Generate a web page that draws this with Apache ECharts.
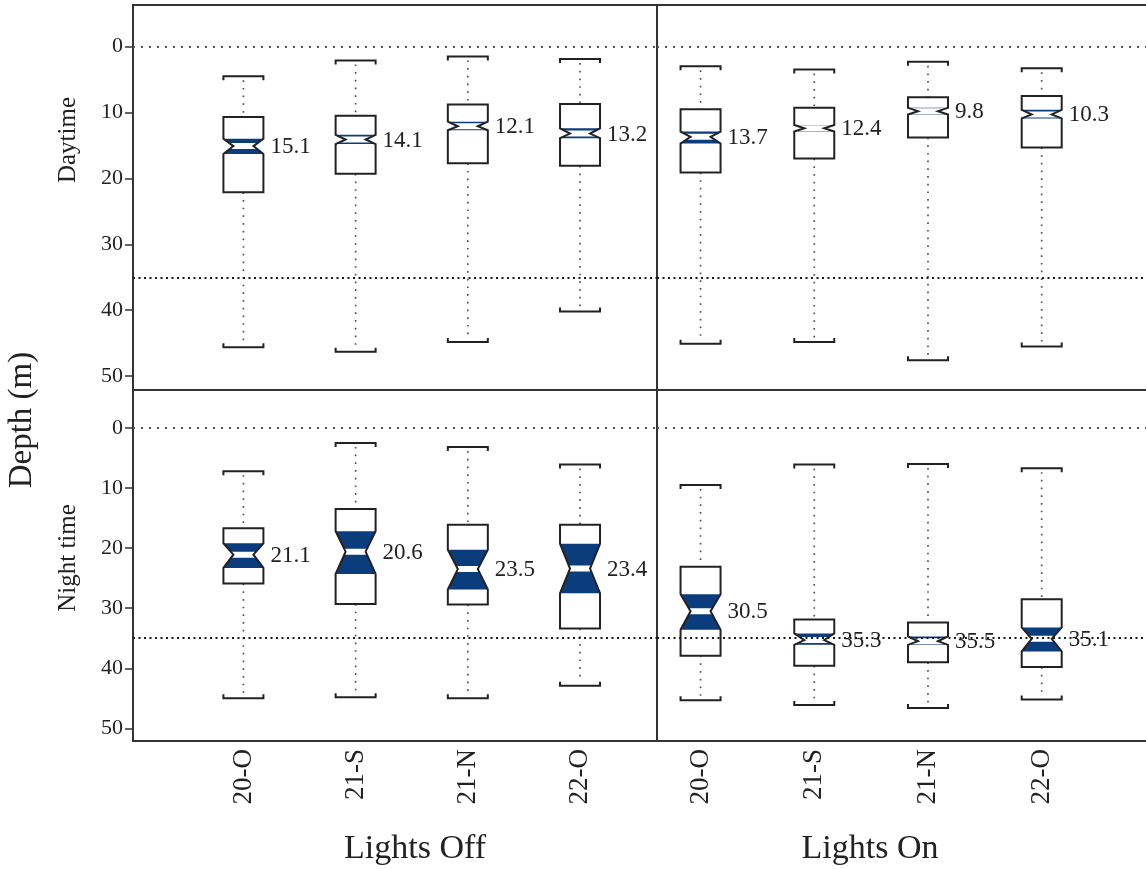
<!DOCTYPE html>
<html>
<head>
<meta charset="utf-8">
<script src="https://cdn.jsdelivr.net/npm/echarts@6/dist/echarts.min.js"></script>
<style>
html,body{margin:0;padding:0;background:#fff;}
#chart{width:1146px;height:869px;}
</style>
</head>
<body>
<div id="chart"></div>
<script>
// ---- data (depth in m) ----
const categories = ['20-O', '21-S', '21-N', '22-O'];
// each row: [upper whisker, box top (Q1), notch top, median, notch bottom, box bottom (Q3), lower whisker]
const dayOff   = [[4.5,10.7,14.0,15.1,16.3,22.1,45.6],[2.1,10.5,13.4,14.1,14.8,19.3,46.3],[1.5,8.8,11.4,12.1,12.7,17.7,44.8],[1.9,8.7,12.4,13.2,13.9,18.1,40.2]];
const dayOn    = [[3.0,9.5,12.9,13.7,14.7,19.1,45.1],[3.5,9.3,11.9,12.4,12.9,17.0,44.8],[2.3,7.7,9.3,9.8,10.3,13.8,47.6],[3.3,7.5,9.6,10.3,10.9,15.3,45.5]];
const nightOff = [[7.2,16.7,19.2,21.1,23.3,25.9,45.0],[2.5,13.5,17.2,20.6,24.3,29.3,44.8],[3.2,16.1,20.3,23.5,26.9,29.4,45.0],[6.1,16.1,19.3,23.4,27.5,33.4,42.9]];
const nightOn  = [[9.5,23.1,27.7,30.5,33.6,37.9,45.3],[6.1,31.9,34.2,35.3,36.1,39.6,46.1],[6.0,32.4,34.7,35.5,36.1,39.0,46.6],[6.7,28.5,33.2,35.1,37.2,39.8,45.2]];
const surfaceDepth = 0;
const refDepth = 35;
const yTicks = [0, 10, 20, 30, 40, 50];
const xPositions = [1, 2, 3, 4];
const columnTitles = ['Lights Off', 'Lights On'];
const rowTitles = ['Daytime', 'Night time'];
const yTitle = 'Depth (m)';

// ---- styling ----
const SERIF = '"Liberation Serif", "Times New Roman", serif';
const NAVY = '#0b3d7c';
const INK = '#222';

function toData(rows) {
  return rows.map((r, i) => [xPositions[i]].concat(r));
}

function renderBox(params, api) {
  const x = api.value(0);
  const P = i => api.coord([x, api.value(i)]);
  const cx = P(4)[0];
  const yCapT = P(1)[1], yQ1 = P(2)[1], yNT = P(3)[1], yMed = P(4)[1],
        yNB = P(5)[1], yQ3 = P(6)[1], yCapB = P(7)[1];
  const hw = 20, nw = 10, capTick = 4;
  const outline = [
    [cx - hw, yQ1], [cx + hw, yQ1], [cx + hw, yNT], [cx + nw, yMed], [cx + hw, yNB],
    [cx + hw, yQ3], [cx - hw, yQ3], [cx - hw, yNB], [cx - nw, yMed], [cx - hw, yNT]
  ];
  const hour = [[cx - hw, yNT], [cx + hw, yNT], [cx + nw, yMed], [cx + hw, yNB], [cx - hw, yNB], [cx - nw, yMed]];
  const band = 3;
  const ht = Math.max(yMed - yNT, 0.001), hb = Math.max(yNB - yMed, 0.001);
  const dT = Math.min(band, ht), dB = Math.min(band, hb);
  const wT = nw + (hw - nw) * dT / ht, wB = nw + (hw - nw) * dB / hb;
  const white = [[cx - wT, yMed - dT], [cx + wT, yMed - dT], [cx + nw, yMed], [cx + wB, yMed + dB], [cx - wB, yMed + dB], [cx - nw, yMed]];
  const dotted = { stroke: '#555', lineWidth: 1.7, lineDash: [1.7, 6], fill: null };
  const med = api.value(4);
  return {
    type: 'group',
    children: [
      { type: 'line', shape: { x1: cx, y1: yCapT + 4, x2: cx, y2: yQ1 }, style: dotted },
      { type: 'line', shape: { x1: cx, y1: yQ3, x2: cx, y2: yCapB - 4 }, style: dotted },
      { type: 'polyline', shape: { points: [[cx - hw, yCapT + capTick], [cx - hw, yCapT], [cx + hw, yCapT], [cx + hw, yCapT + capTick]] },
        style: { stroke: INK, lineWidth: 2, fill: null } },
      { type: 'polyline', shape: { points: [[cx - hw, yCapB - capTick], [cx - hw, yCapB], [cx + hw, yCapB], [cx + hw, yCapB - capTick]] },
        style: { stroke: INK, lineWidth: 2, fill: null } },
      { type: 'polygon', shape: { points: outline }, style: { fill: '#fff', stroke: null } },
      { type: 'polygon', shape: { points: hour }, style: { fill: NAVY, stroke: null } },
      { type: 'polygon', shape: { points: white }, style: { fill: '#fff', stroke: null } },
      { type: 'polygon', shape: { points: outline }, style: { fill: null, stroke: INK, lineWidth: 2 } },
      { type: 'text', style: { text: med.toFixed(1), x: cx + hw + 7, y: yMed + 1, align: 'left', verticalAlign: 'middle',
          font: '23px ' + SERIF, fill: INK } }
    ]
  };
}

const grids = [
  { left: 133, top: 5, width: 524, height: 385 },
  { left: 657, top: 5, width: 495, height: 385 },
  { left: 133, top: 390, width: 524, height: 351 },
  { left: 657, top: 390, width: 495, height: 351 }
].map(g => Object.assign(g, { show: true, borderColor: '#333', borderWidth: 2, backgroundColor: 'transparent',
  containLabel: false, outerBoundsMode: 'none' }));

const xRanges = [[0.016, 4.686], [0.617, 4.97], [0.016, 4.686], [0.617, 4.97]];
const xAxes = xRanges.map((r, i) => ({
  type: 'value', gridIndex: i, min: r[0], max: r[1],
  axisLine: { show: false }, axisTick: { show: false }, splitLine: { show: false },
  axisLabel: {
    show: i >= 2, rotate: 90, margin: 8, customValues: xPositions,
    formatter: v => categories[Math.round(v) - 1] || '',
    fontFamily: SERIF, fontSize: 27, color: INK
  }
}));
const yAxes = [0, 1, 2, 3].map(i => ({
  type: 'value', gridIndex: i, inverse: true, min: -6.3, max: 52.1,
  splitLine: { show: false },
  axisLine: { show: i % 2 === 0, lineStyle: { color: '#333', width: 2 } },
  axisTick: { show: i % 2 === 0, length: 8, customValues: yTicks, lineStyle: { color: '#333', width: 1.5 } },
  axisLabel: { show: i % 2 === 0, customValues: yTicks, margin: 10, fontFamily: SERIF, fontSize: 22, color: INK }
}));

const panels = [dayOff, dayOn, nightOff, nightOn];
const series = [];
panels.forEach((p, i) => {
  series.push({
    type: 'custom', xAxisIndex: i, yAxisIndex: i, data: toData(p),
    encode: { x: 0, y: [1, 2, 3, 4, 5, 6, 7] }, renderItem: renderBox, silent: true, z: 2
  });
  series.push({
    type: 'line', xAxisIndex: i, yAxisIndex: i, data: [], z: 5, silent: true,
    markLine: {
      symbol: 'none', silent: true, label: { show: false }, animation: false,
      data: [
        { yAxis: surfaceDepth, lineStyle: { color: '#555', type: [2, 6], width: 1.8 } },
        { yAxis: refDepth, lineStyle: { color: '#1a1a1a', type: [2, 3.5], width: 2 } }
      ]
    }
  });
});

const chart = echarts.init(document.getElementById('chart'), null, { renderer: 'canvas' });
chart.setOption({
  animation: false,
  backgroundColor: '#fff',
  grid: grids,
  xAxis: xAxes,
  yAxis: yAxes,
  series: series,
  graphic: [
    { type: 'text', x: 22, y: 420, rotation: Math.PI / 2,
      style: { text: yTitle, font: '33px ' + SERIF, fill: INK, align: 'center', verticalAlign: 'middle' } },
    { type: 'text', x: 68, y: 140, rotation: Math.PI / 2,
      style: { text: rowTitles[0], font: '25px ' + SERIF, fill: INK, align: 'center', verticalAlign: 'middle' } },
    { type: 'text', x: 68, y: 558, rotation: Math.PI / 2,
      style: { text: rowTitles[1], font: '25px ' + SERIF, fill: INK, align: 'center', verticalAlign: 'middle' } },
    { type: 'text', x: 415, y: 849,
      style: { text: columnTitles[0], font: '34px ' + SERIF, fill: INK, align: 'center', verticalAlign: 'middle' } },
    { type: 'text', x: 870, y: 849,
      style: { text: columnTitles[1], font: '34px ' + SERIF, fill: INK, align: 'center', verticalAlign: 'middle' } }
  ]
});
</script>
</body>
</html>
